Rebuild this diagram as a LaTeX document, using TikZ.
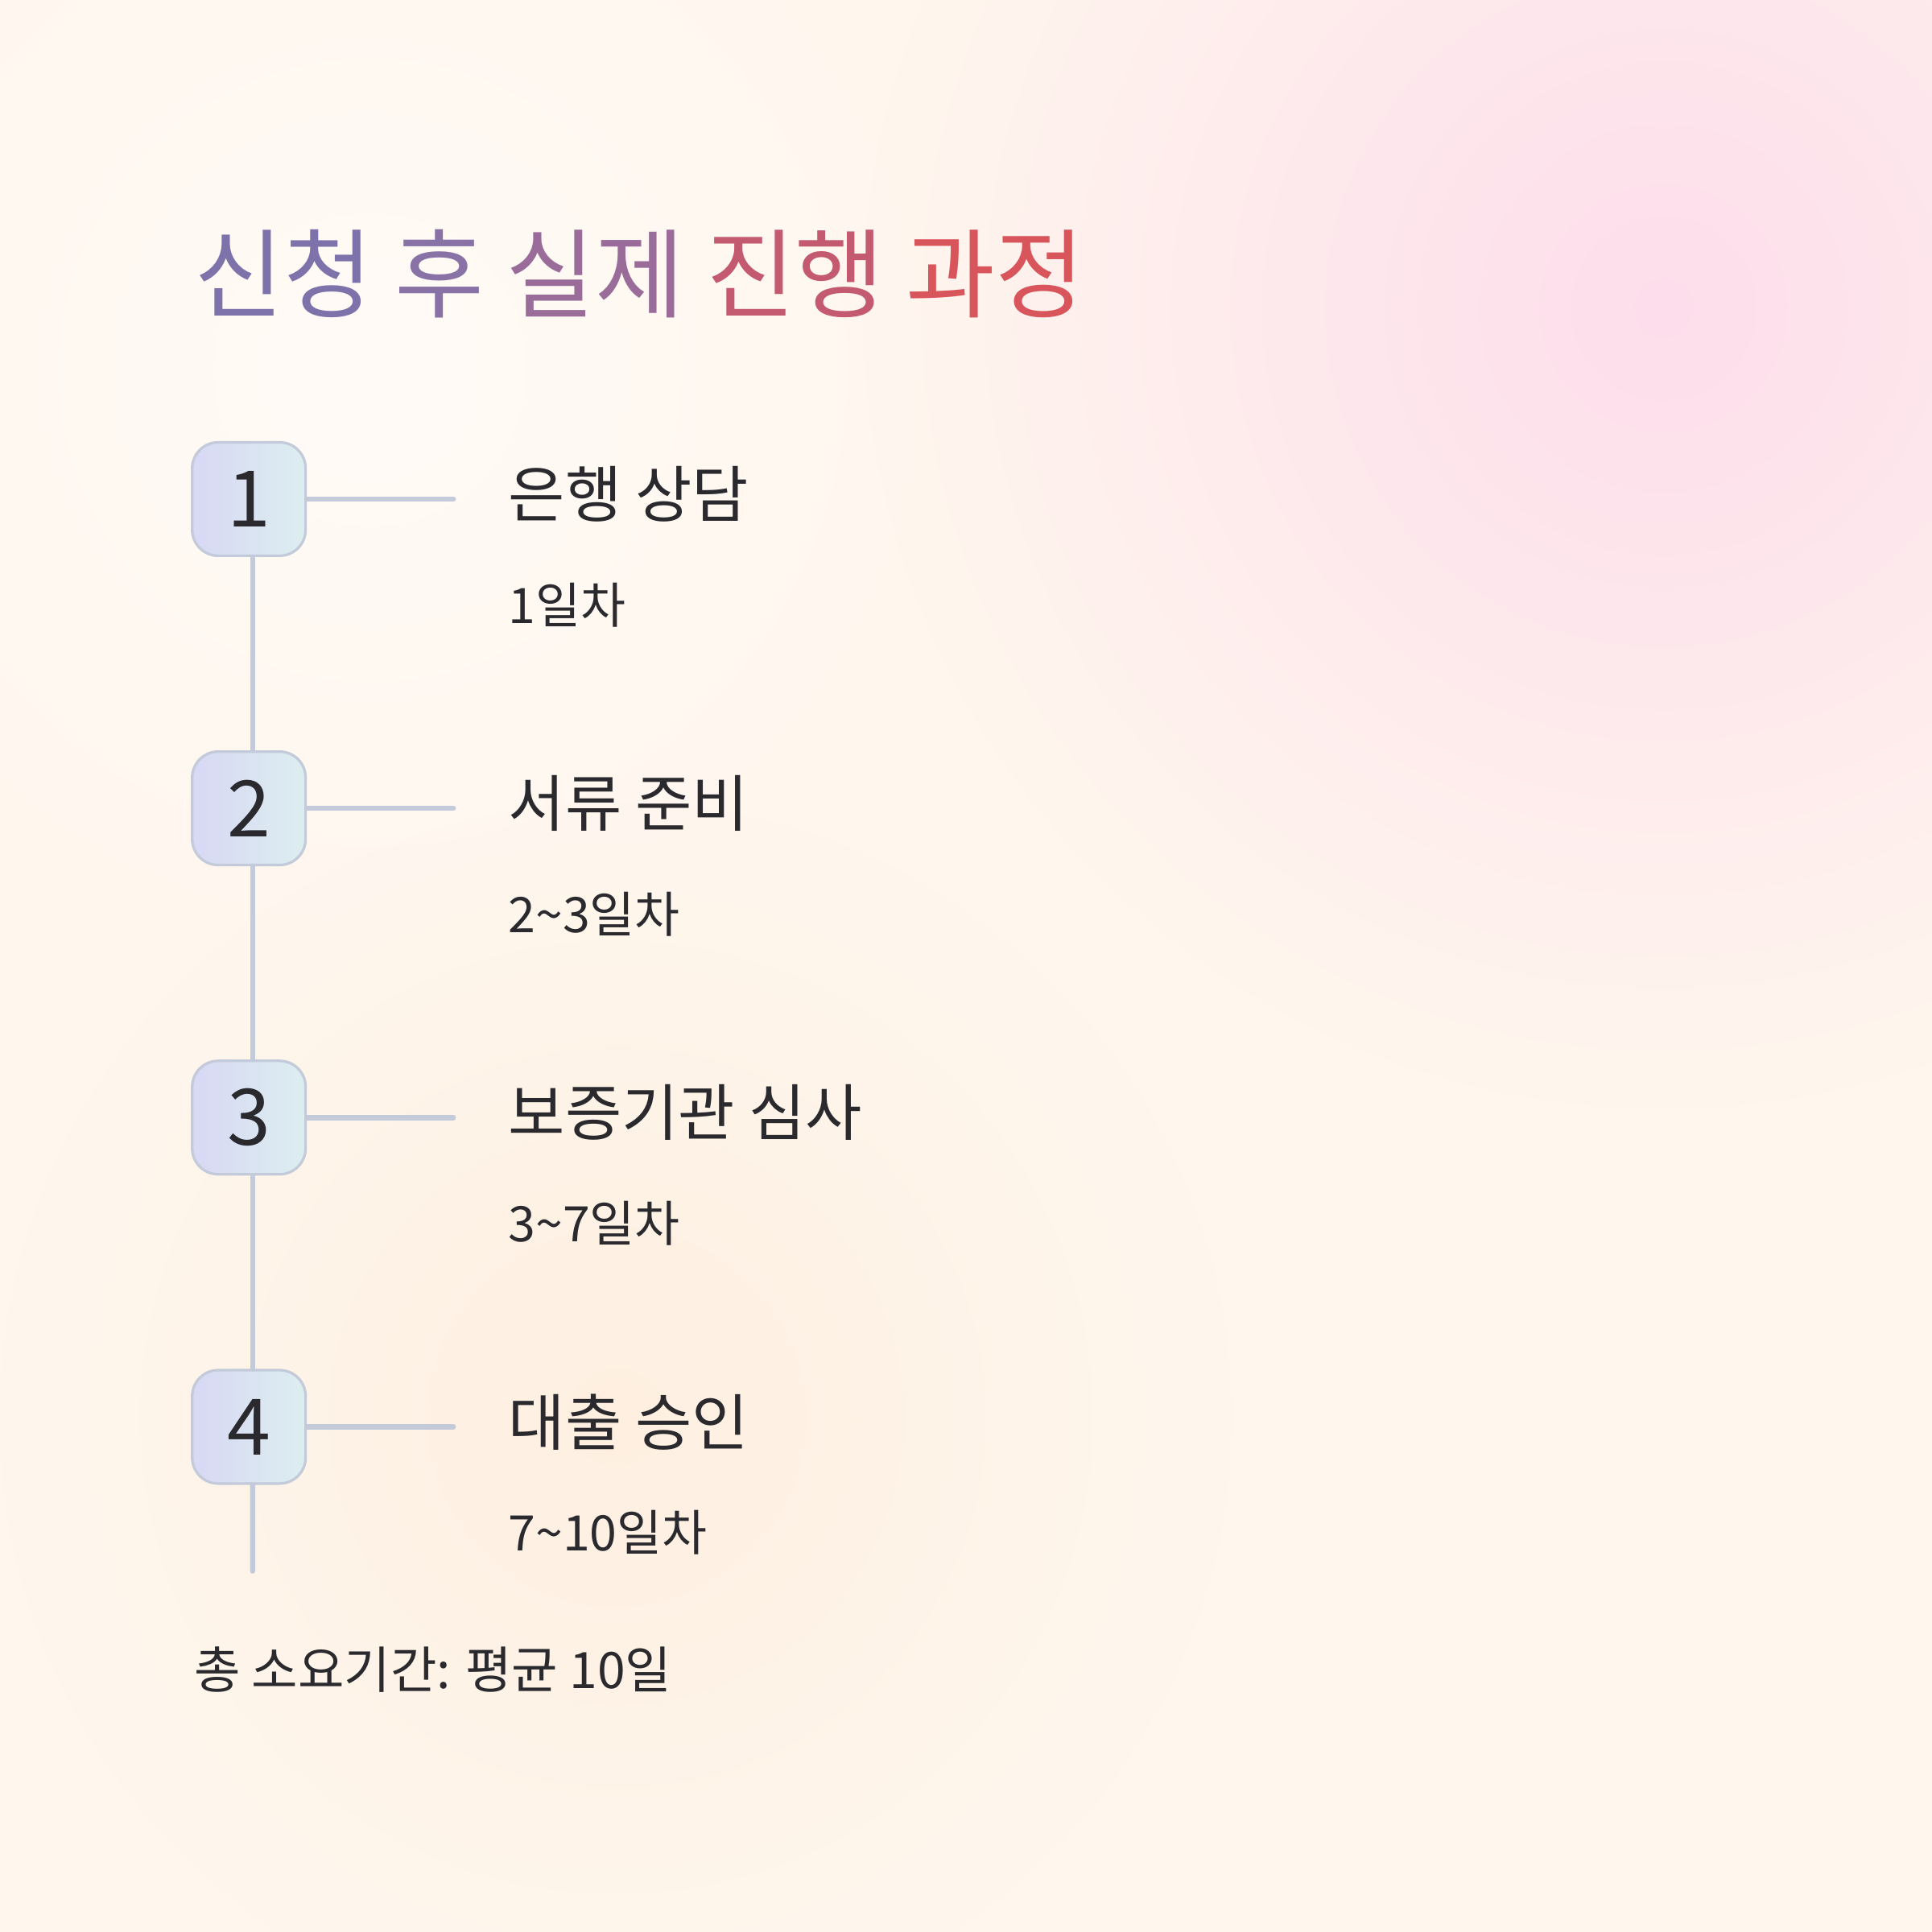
\documentclass[tikz,border=0pt]{standalone}
\usepackage{fontspec}
\setmainfont{Noto Sans CJK KR}
\usetikzlibrary{fadings}
\newcommand\tld{\char"7E\relax}
\tikzfading[name=fuzzy, inner color=transparent!0, outer color=transparent!100]
\definecolor{bgc}{HTML}{FFF7EE}
\definecolor{pinkc}{HTML}{FDDDEB}
\definecolor{peach}{HTML}{FDE8D4}
\definecolor{linec}{HTML}{C3CAD9}
\definecolor{txt}{HTML}{2A2A2E}
\definecolor{boxl}{HTML}{D8D8F4}
\definecolor{boxr}{HTML}{DCEEF0}
\begin{document}
\begin{tikzpicture}[x=0.01cm,y=-0.01cm,
  numbox/.style={draw=linec,line width=0.6pt,rounded corners=6pt,minimum size=0.92cm,
     left color=boxl,right color=boxr,
     font=\fontsize{18}{18}\selectfont,text=txt,inner sep=0pt},
  conn/.style={draw=linec,line width=1.2pt,line cap=round},
  stitle/.style={anchor=west,font=\fontsize{14.2}{15}\selectfont,text=txt,inner sep=0pt},
  ssub/.style={anchor=west,font=\fontsize{11.3}{12}\selectfont,text=txt,inner sep=0pt}]
\useasboundingbox (0,0) rectangle (1568,1568);
\fill[bgc] (0,0) rectangle (1568,1568);
\fill[pinkc,path fading=fuzzy] (1350,250) circle (650);
\fill[white,opacity=0.5,path fading=fuzzy] (300,300) circle (500);
\fill[peach,opacity=0.5,path fading=fuzzy] (500,1150) circle (500);
\node[anchor=west,inner sep=0pt,font=\fontsize{22.4}{24}\selectfont] (title) at (157,222)
 {\textcolor[HTML]{7E72AA}{신청} \textcolor[HTML]{8872A6}{후} \textcolor[HTML]{9A6C9A}{실제} \textcolor[HTML]{C45A70}{진행} \textcolor[HTML]{D9555C}{과정}};
\foreach \i/\y/\t/\s in {1/405/은행 상담/1일차,2/656/서류 준비/2\tld 3일차,3/907/보증기관 심사/3\tld 7일차,4/1158/대출 승인/7\tld 10일차}{
  \node[numbox] (b\i) at (202,\y) {\i};
  \coordinate (h\i) at (368,\y);
  \draw[conn] (b\i.east) -- (h\i);
  \node[stitle] (t\i) at (412,\y-4) {\t};
  \node[ssub] (s\i) at (412,\y+86) {\s};
}
\coordinate (end) at (205,1275);
\draw[conn] ([xshift=0.03cm]b1.south) -- ([xshift=0.03cm]b2.north);
\draw[conn] ([xshift=0.03cm]b2.south) -- ([xshift=0.03cm]b3.north);
\draw[conn] ([xshift=0.03cm]b3.south) -- ([xshift=0.03cm]b4.north);
\draw[conn] ([xshift=0.03cm]b4.south) -- (end);
\node[anchor=west,inner sep=0pt,font=\fontsize{11.6}{13}\selectfont,text=txt] (foot) at (157,1355) {총 소요기간: 평균 10일};
\end{tikzpicture}
\end{document}
